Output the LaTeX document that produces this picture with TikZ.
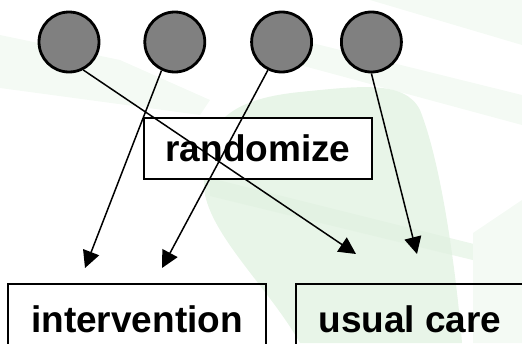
\documentclass[tikz,border=0pt]{standalone}
\usepackage{fontspec}
\setmainfont{Liberation Sans}
\usetikzlibrary{positioning,arrows.meta}
\definecolor{leafgreen}{RGB}{232,245,232}
\definecolor{leafband}{RGB}{224,241,224}
\definecolor{paleband}{RGB}{244,250,244}

\begin{document}
\begin{tikzpicture}[x=1pt, y=-1pt,
        dotnode/.style={circle, draw=black, fill=gray, line width=2.8pt, minimum size=60pt, inner sep=0pt},
        boxnode/.style={rectangle, draw=black, line width=1.8pt, inner sep=0pt, font=\fontsize{37}{44}\selectfont\bfseries},
        arrowline/.style={line width=1.5pt, -{Triangle[length=17pt, width=17pt]}}]

        \useasboundingbox (0,0) rectangle (522,343);
        \clip (0,0) rectangle (522,343);

        \fill[paleband] (0,35) -- (120,60) -- (210,100) -- (200,115) -- (0,88) -- cycle;
        \fill[paleband] (370,0) -- (522,0) -- (522,45) -- cycle;
        \fill[paleband] (300,40) -- (522,95) -- (522,125) -- (300,65) -- cycle;
        \fill[leafgreen] (205,195) .. controls (198,130) and (220,100) .. (300,92) .. controls (360,86) and (405,80) .. (420,110) .. controls (440,160) and (455,260) .. (462,343) -- (300,343) .. controls (270,290) and (215,240) .. (205,195) -- cycle;
        \fill[leafband, opacity=0.6] (210,178) -- (522,256) -- (522,272) -- (210,196) -- cycle;
        \fill[paleband] (473,233) -- (522,200) -- (522,343) -- (473,343) -- cycle;

        \node[dotnode] (c1) at (69,42) {};
        \node[dotnode] (c2) [right=43pt of c1] {};
        \node[dotnode] (c3) [right=44pt of c2] {};
        \node[dotnode] (c4) [right=27pt of c3] {};

        \node[boxnode, fill=white, minimum width=228pt, minimum height=61pt] (rand) at (258,148.5) {randomize};
        \node[boxnode, minimum width=258pt, minimum height=71pt] (interv) at (137,319.5) {intervention};
        \node[boxnode, minimum width=228pt, minimum height=71pt] (usual) at (410,319.5) {usual care};

        \coordinate (t1) at (356,254);
        \coordinate (t2) at (85,268);
        \coordinate (t3) at (162,268);
        \coordinate (t4) at (417,254);

        \draw[arrowline] (c1.-63) -- (t1);
        \draw[arrowline] (c2.-115) -- (t2);
        \draw[arrowline] (c3.-116) -- (t3);
        \draw[arrowline] (c4.-90) -- (t4);

\end{tikzpicture}
\end{document}
